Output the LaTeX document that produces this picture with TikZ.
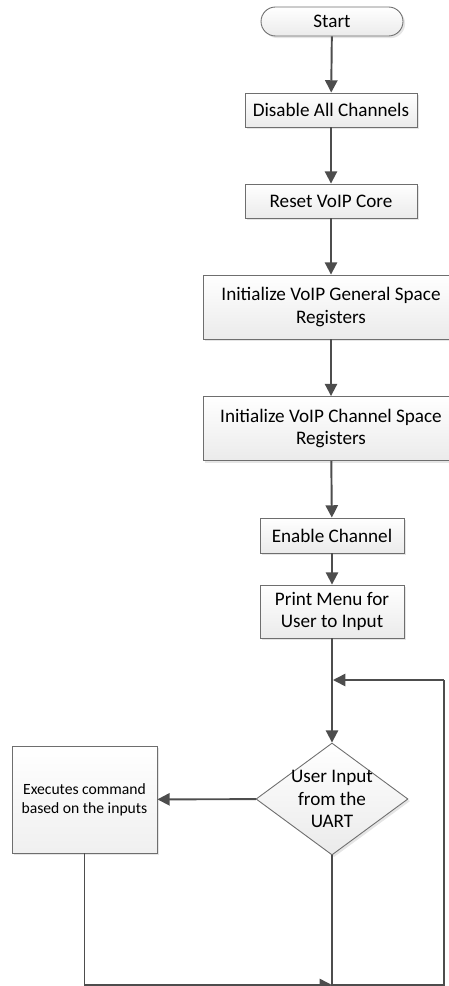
\documentclass[tikz,border=0pt]{standalone}
\usepackage{fontspec}
\setmainfont{Carlito}
\usetikzlibrary{arrows.meta,shapes.geometric,shadows}
\definecolor{linegray}{HTML}{4D4D4D}
\definecolor{edgegray}{HTML}{6E6E6E}
\begin{document}
\begin{tikzpicture}[x=0.02cm, y=-0.02cm,
  box/.style={draw=edgegray, line width=0.5pt, top color=white, bottom color=black!8,
    drop shadow={shadow xshift=1.2pt, shadow yshift=-1.2pt, fill=black!20},
    align=center, inner sep=2pt, font=\fontsize{10.9}{13}\selectfont},
  flow/.style={draw=linegray, line width=1.1pt, -{Triangle[length=7pt,width=7pt]}},
  back/.style={draw=linegray, line width=0.9pt}]
  % page (the two wide boxes run past the right edge)
  \useasboundingbox (0,0) rectangle (449,986);
  \clip (0,0) rectangle (449,986);

  % main column, x = 331
  \node[box, rounded corners=0.29cm, minimum width=2.84cm, minimum height=0.58cm] (start) at (332,21.5) {Start};
  \node[box, minimum width=3.44cm, minimum height=0.68cm] (disable) at (331,110) {Disable All Channels};
  \node[box, minimum width=3.44cm, minimum height=0.68cm] (reset) at (331,201) {Reset VoIP Core};
  \node[box, minimum width=5.12cm, minimum height=1.28cm] (genreg) at (331,307) {Initialize VoIP General Space\\Registers};
  \node[box, minimum width=5.12cm, minimum height=1.28cm] (chreg) at (331,428.5) {Initialize VoIP Channel Space\\Registers};
  \node[box, minimum width=2.88cm, minimum height=0.70cm] (enable) at (332,535.5) {Enable Channel};
  \node[box, minimum width=2.88cm, minimum height=1.06cm] (menu) at (332,611.5) {Print Menu for\\User to Input};

  % decision, text set on top of an empty diamond
  \node[box, shape=diamond, inner sep=0pt, minimum width=3.04cm, minimum height=2.24cm] (uart) at (332,799) {};
  \node[align=center, font=\fontsize{10.9}{13}\selectfont] (uarttext) at (uart) {User Input\\from the\\UART};

  \node[box, top color=white, bottom color=black!6, minimum width=2.9cm, minimum height=2.14cm,
    font=\fontsize{8.9}{11}\selectfont] (exec) at (84.5,799.5) {Executes command\\based on the inputs};

  % loop corners
  \coordinate (loopbr) at (444,985);
  \coordinate (loopin) at (333,680);

  \draw[flow] (start) -- (disable);
  \draw[flow] (disable) -- (reset);
  \draw[flow] (reset) -- (genreg);
  \draw[flow] (genreg) -- (chreg);
  \draw[flow] (chreg) -- (enable);
  \draw[flow] (enable) -- (menu);
  \draw[flow] (menu) -- (uart);
  \draw[flow] (uart) -- (exec);

  % back to the decision
  \draw[back] (uart.south) -- (uart.south |- loopbr) -- (loopbr) -- (loopbr |- loopin);
  \draw[back, -{Triangle[length=7pt,width=7pt]}] (loopbr |- loopin) -- (loopin);
  \draw[back, -{Triangle[length=7pt,width=7pt]}] (exec.south) -- (exec.south |- loopbr) -- (uart.south |- loopbr);
\end{tikzpicture}
\end{document}
